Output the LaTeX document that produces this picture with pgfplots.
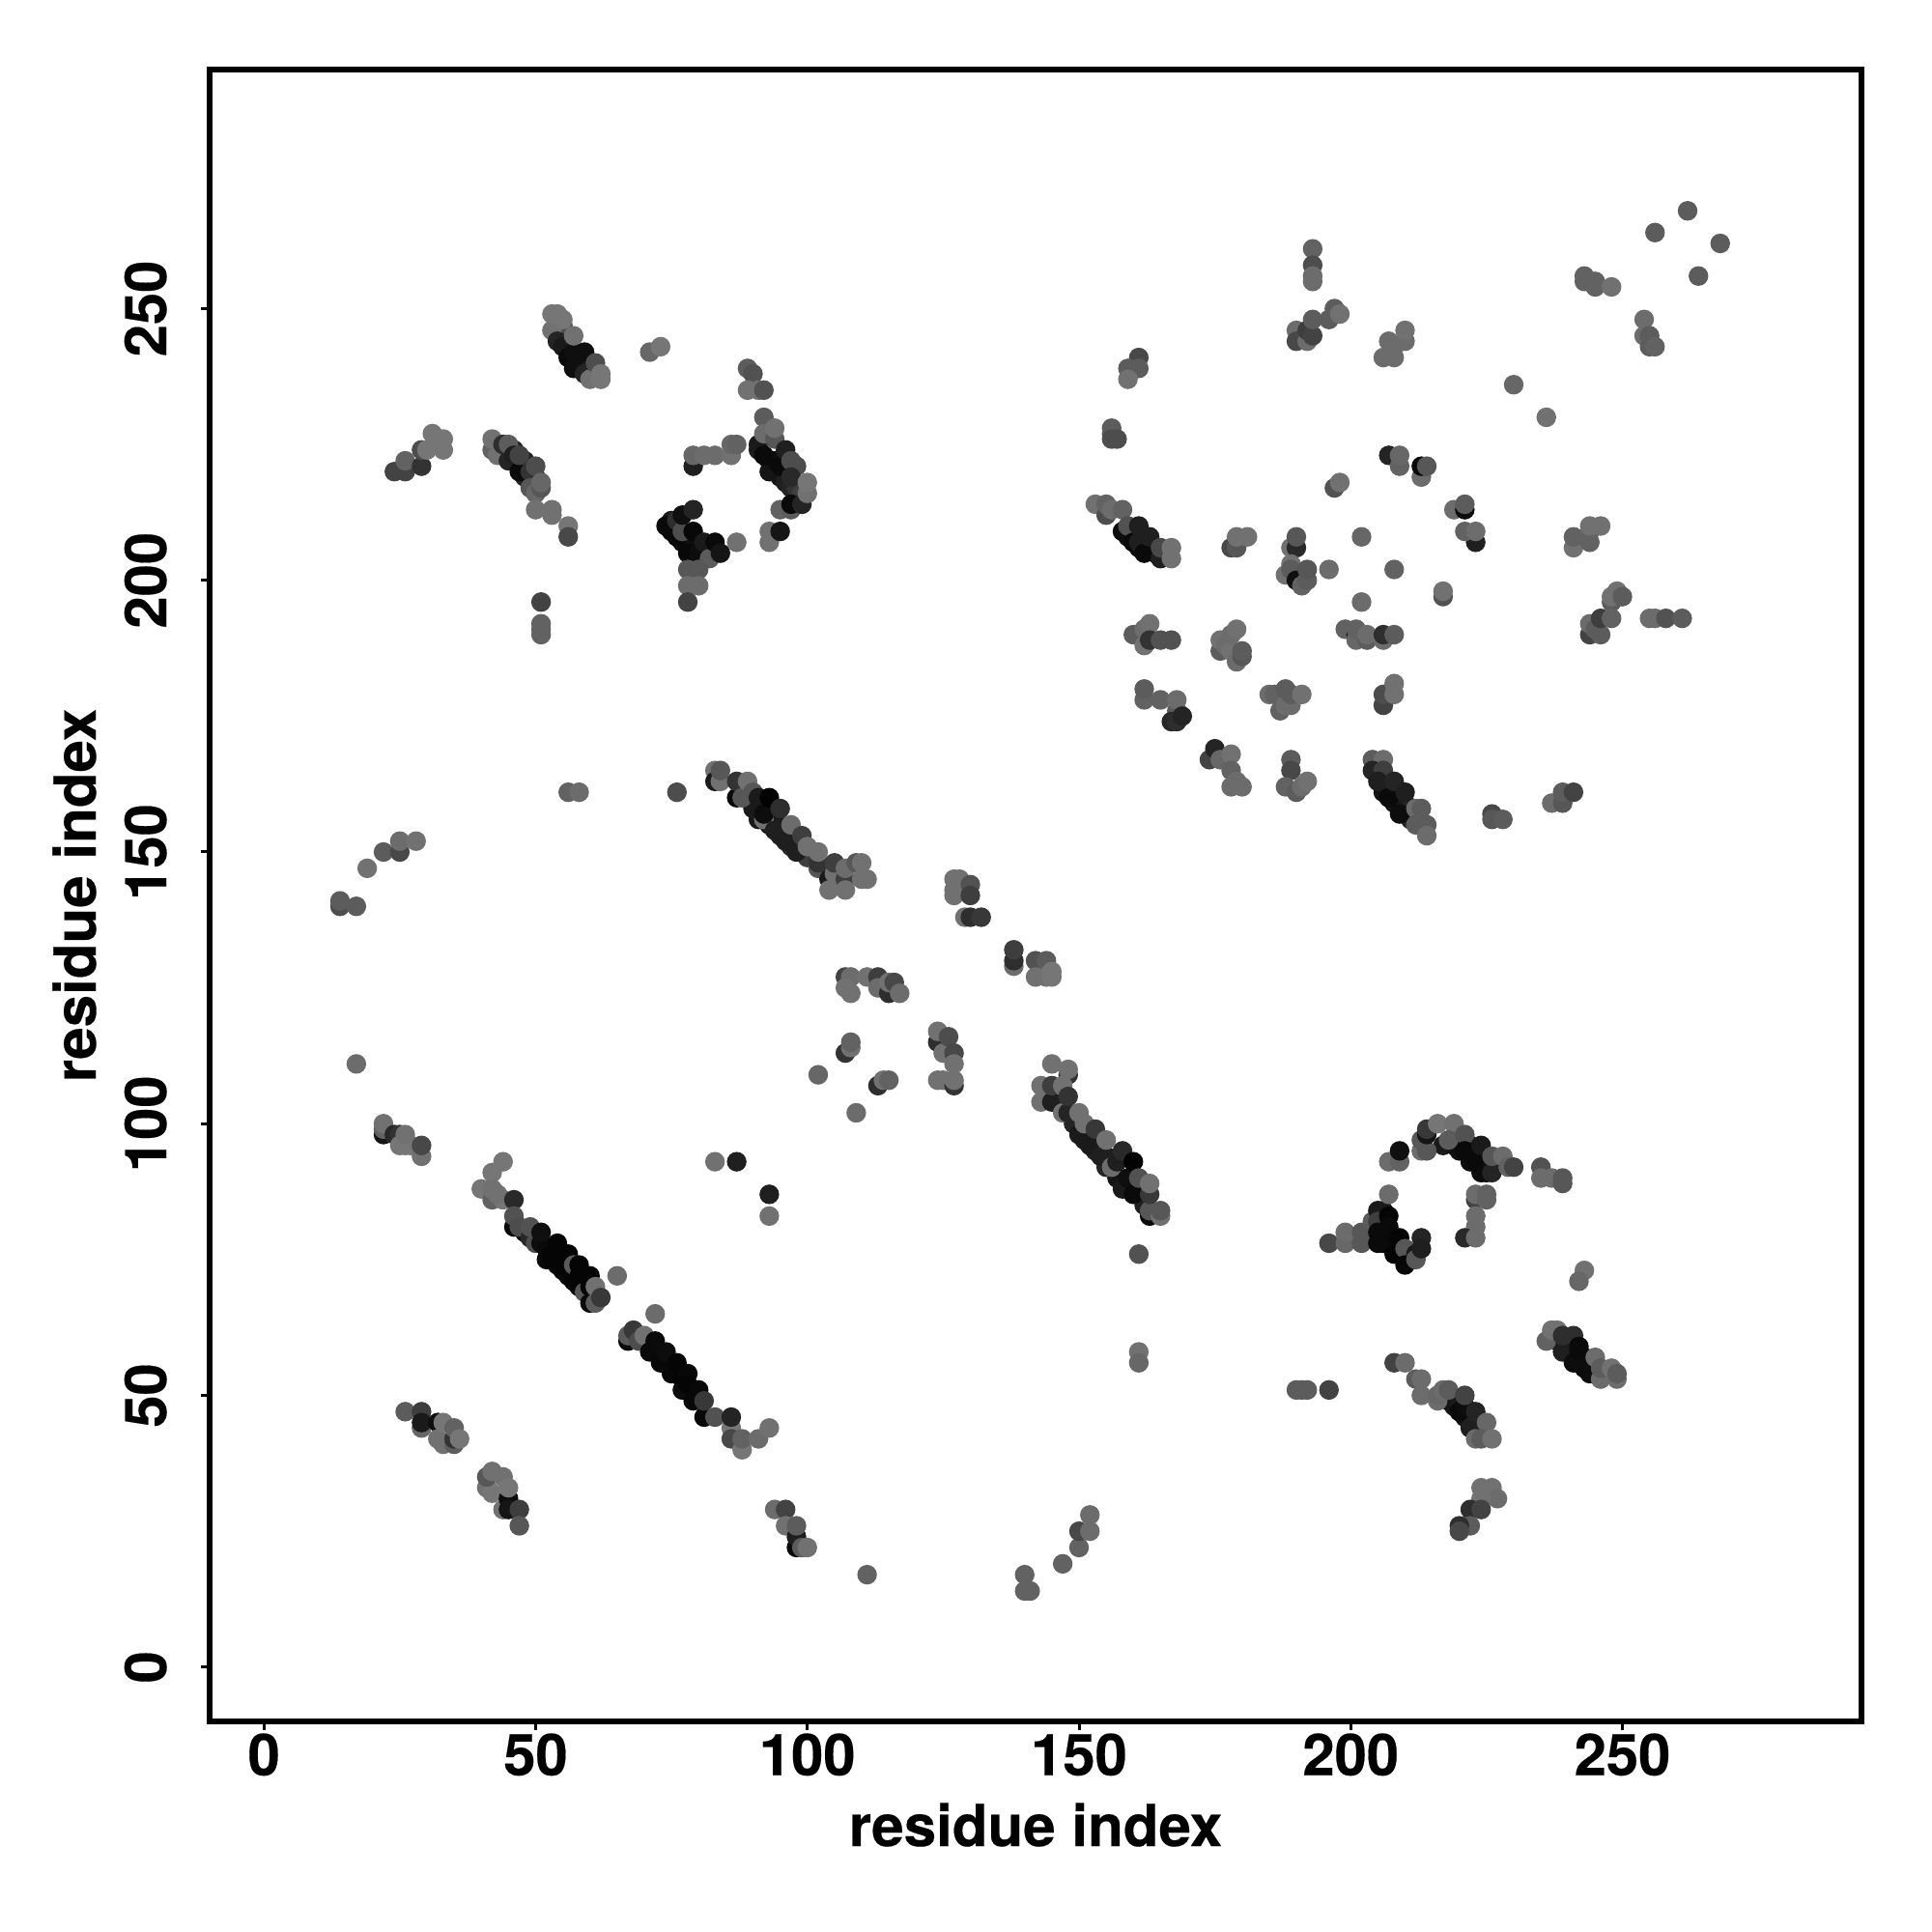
\documentclass[border=0pt]{standalone}
\usepackage{fontspec}
\setmainfont{TeX Gyre Heros}[BoldFeatures={FakeBold=0.3}]
\usepackage{pgfplots}
\pgfplotsset{compat=1.18}
\begin{document}
\begin{tikzpicture}
\path[use as bounding box] (-2.17,-2.18) rectangle (17.83,17.82);
\begin{axis}[
  at={(0,0)},anchor=south west,
  scale only axis,width=17.1cm,height=17.1cm,
  xmin=-10,xmax=294,ymin=-10,ymax=294,
  axis line style={line width=0.06cm},
  xtick={0,50,100,150,200,250},ytick={0,50,100,150,200,250},
  tick align=outside,tick pos=left,
  major tick length=0.09cm,
  tick style={line width=0.03cm,black},
  /pgf/number format/assume math mode=true,
  tick label style={font=\fontsize{17}{20}\selectfont\bfseries},
  xticklabel style={yshift=0.09cm},
  yticklabel style={rotate=90,anchor=south,yshift=0.23cm},
  xlabel={residue index},ylabel={residue index},
  label style={font=\fontsize{17.1}{20}\selectfont\bfseries},
  xlabel style={at={(axis description cs:0.5,0)},anchor=center,yshift=-1.07cm},
  ylabel style={at={(axis description cs:0,0.5)},anchor=center,rotate=0,yshift=1.4cm},
  colormap={g}{gray(0cm)=(0);gray(1cm)=(1)},
  point meta min=0,point meta max=1,
  clip=true,
]
\addplot[scatter,only marks,mark=*,mark size=2.9pt,scatter src=explicit,
  scatter/use mapped color={draw opacity=0,fill=mapped color}]
  table[row sep=\\,header=false,x index=0,y index=1,meta index=2]{
48 80 .06\\ 52 75 .04\\ 54 74 .04\\ 56 72 .03\\ 58 70 .04\\
90 158 .1\\ 91 156 .1\\ 93 157 .06\\ 93 155 .1\\ 95 155 .1\\ 95 153 .14\\ 97 153 .14\\ 97 151 .16\\ 99 150 .2\\ 100 149 .24\\
149 100 .14\\ 151 97 .12\\ 153 95 .14\\ 155 94 .12\\ 155 92 .14\\ 157 90 .08\\ 158 88 .1\\ 160 90 .06\\ 162 85 .12\\ 162 88 .1\\
206 161 .08\\ 207 163 .12\\ 208 159 .08\\ 209 161 .08\\ 210 159 .1\\ 211 156 .14\\ 211 158 .14\\
54 246 .1\\ 55 245 .14\\ 55 247 .3\\ 56 243 .06\\ 57 240 .06\\ 58 241 .05\\ 59 240 .06\\ 60 239 .1\\
91 224 .12\\ 93 222 .06\\ 93 220 .08\\ 94 222 .06\\ 95 219 .08\\ 96 218 .12\\ 97 217 .14\\ 98 217 .2\\ 99 216 .24\\
159 208 .08\\ 160 209 .1\\ 161 206 .06\\ 162 208 .1\\ 163 206 .08\\ 164 205 .1\\
217 96 .1\\ 219 96 .08\\ 220 95 .06\\ 222 93 .06\\ 222 96 .08\\ 224 91 .06\\ 224 93 .1\\ 226 93 .14\\
238 60 .14\\ 240 58 .06\\ 241 59 .06\\ 242 56 .05\\ 243 57 .06\\ 244 56 .08\\ 245 55 .14\\ 247 54 .24\\
218 49 .12\\ 219 48 .08\\ 220 49 .1\\ 221 46 .08\\ 222 47 .1\\ 223 45 .14\\ 224 44 .2\\
75 209 .05\\ 75 211 .1\\ 77 207 .05\\ 78 207 .05\\ 79 207 .06\\ 80 206 .06\\ 81 205 .06\\ 82 206 .06\\
206 84 .1\\ 206 82 .06\\ 206 80 .05\\ 207 79 .04\\ 208 78 .04\\ 209 77 .04\\ 211 75 .06\\
44 223 .14\\ 46 224 .14\\ 47 221 .08\\ 48 222 .14\\ 48 219 .14\\ 50 219 .2\\
};
\addplot[scatter,only marks,mark=*,mark size=2.9pt,scatter src=explicit,
  scatter/use mapped color={draw opacity=0,fill=mapped color}]
  table[row sep=\\,header=false,x index=0,y index=1,meta index=2]{
17 111 .42\\
22 98 .08\\ 22 99 .38\\ 22 100 .44\\ 24 98 .16\\ 25 98 .2\\ 25 96 .46\\ 26 96 .46\\ 27 96 .46\\ 26 98 .44\\ 29 94 .44\\ 29 96 .28\\
44 93 .46\\ 42 91 .46\\ 40 88 .46\\ 42 86 .38\\ 44 86 .46\\ 42 88 .44\\ 43 87 .44\\ 46 86 .16\\ 46 81 .04\\ 46 83 .32\\ 47 81 .3\\ 49 79 .16\\ 50 78 .3\\ 49 81 .32\\
51 78 .05\\ 52 77 .04\\ 53 75 .02\\ 53 76 .02\\ 51 80 .06\\ 54 78 .02\\ 55 73 .02\\ 55 75 .02\\ 56 74 .02\\ 56 76 .02\\ 57 71 .02\\ 57 73 .02\\ 57 74 .35\\ 58 72 .02\\ 58 74 .02\\ 59 71 .02\\ 59 69 .34\\ 60 72 .02\\ 60 70 .02\\ 60 67 .04\\ 61 67 .36\\ 61 70 .44\\ 62 68 .22\\
65 72 .42\\ 72 65 .42\\
67 60 .04\\ 67 61 .35\\ 68 62 .22\\ 69 60 .3\\ 70 61 .44\\ 71 58 .04\\ 72 60 .04\\ 73 56 .03\\ 74 58 .05\\ 75 54 .03\\ 76 56 .02\\ 77 51 .05\\ 77 53 .02\\ 78 54 .03\\ 78 52 .02\\ 79 49 .03\\ 80 51 .03\\ 81 46 .03\\ 81 49 .22\\ 83 46 .32\\ 86 44 .46\\ 86 42 .28\\ 86 46 .14\\ 88 40 .46\\ 88 42 .38\\ 91 42 .42\\ 93 44 .44\\
83 93 .44\\ 87 93 .12\\ 93 87 .12\\ 93 83 .44\\
26 47 .36\\ 29 44 .4\\ 29 47 .24\\ 29 45 .1\\ 32 45 .06\\ 32 42 .44\\ 33 41 .44\\ 33 45 .46\\ 35 41 .36\\ 35 42 .2\\ 35 44 .38\\ 36 42 .46\\
41 33 .44\\ 42 32 .46\\ 41 35 .34\\ 42 36 .44\\ 44 35 .44\\ 44 29 .44\\ 45 31 .05\\ 45 29 .08\\ 45 33 .46\\ 47 29 .24\\ 47 26 .34\\
94 29 .42\\ 96 29 .26\\ 96 26 .44\\ 98 22 .04\\ 98 24 .12\\ 98 26 .36\\ 99 22 .36\\ 100 22 .44\\
111 17 .38\\ 140 17 .38\\ 140 14 .38\\ 141 14 .38\\ 147 19 .38\\ 150 22 .38\\ 150 25 .28\\ 152 25 .42\\ 152 28 .42\\
14 140 .3\\ 14 141 .36\\ 17 140 .36\\ 19 147 .44\\ 22 150 .36\\ 25 150 .28\\ 25 152 .42\\ 28 152 .44\\
56 161 .38\\ 58 161 .42\\ 76 161 .3\\
24 220 .26\\ 26 220 .26\\ 26 222 .38\\ 29 221 .2\\ 29 224 .3\\ 30 224 .46\\ 31 227 .46\\ 32 225 .46\\ 33 226 .46\\ 33 224 .46\\
42 224 .38\\ 42 226 .44\\ 43 223 .44\\ 44 225 .18\\ 45 222 .14\\ 45 225 .36\\ 46 223 .12\\ 47 220 .04\\ 47 223 .26\\ 49 220 .2\\ 50 221 .3\\ 49 217 .34\\ 50 216 .4\\ 51 217 .34\\ 51 218 .4\\ 50 213 .44\\ 53 213 .44\\ 53 212 .44\\ 56 210 .46\\ 56 208 .28\\
51 196 .26\\ 51 192 .38\\ 51 191 .38\\ 51 190 .38\\
53 246 .44\\ 53 249 .46\\ 54 249 .46\\ 54 244 .14\\ 55 243 .1\\ 55 248 .46\\ 56 241 .04\\ 57 239 .06\\ 57 242 .06\\ 57 245 .44\\ 59 238 .14\\ 59 242 .06\\ 60 237 .44\\ 61 240 .3\\ 62 237 .46\\ 62 238 .46\\
71 242 .4\\ 73 243 .46\\
79 221 .12\\ 79 223 .4\\ 81 223 .42\\ 83 223 .42\\ 86 223 .44\\ 86 225 .4\\ 87 225 .38\\
89 239 .36\\ 90 238 .32\\ 89 235 .44\\ 91 235 .44\\ 92 235 .32\\
91 225 .1\\ 92 230 .36\\ 92 227 .42\\ 92 223 .04\\ 94 226 .34\\ 94 228 .44\\ 95 221 .04\\ 96 224 .12\\ 97 222 .3\\ 98 221 .3\\ 97 219 .16\\ 95 213 .38\\ 97 213 .36\\ 97 214 .04\\ 99 214 .14\\ 100 216 .44\\ 100 218 .46\\
93 207 .44\\ 93 209 .44\\ 95 209 .08\\ 87 207 .44\\
74 210 .04\\ 76 208 .03\\ 76 211 .18\\ 77 209 .3\\ 78 205 .03\\ 77 212 .06\\ 79 213 .14\\ 79 209 .03\\ 80 205 .05\\ 81 207 .1\\ 82 204 .36\\ 83 207 .04\\ 84 205 .08\\ 78 202 .34\\ 80 202 .34\\ 78 199 .42\\ 80 199 .42\\ 78 196 .26\\
83 165 .44\\ 83 163 .1\\ 84 163 .44\\ 84 165 .34\\ 87 160 .04\\ 87 163 .2\\ 88 160 .34\\ 89 163 .44\\ 90 161 .34\\ 91 160 .1\\ 92 156 .44\\ 92 157 .05\\ 93 160 .01\\ 94 154 .12\\ 95 158 .18\\ 96 152 .12\\ 97 155 .42\\ 98 150 .12\\ 99 153 .24\\ 100 151 .44\\ 102 147 .34\\ 102 148 .2\\ 102 150 .44\\ 104 145 .1\\ 104 143 .44\\ 105 146 .44\\ 105 148 .24\\ 107 145 .24\\ 107 143 .44\\ 107 147 .42\\ 109 148 .34\\ 110 148 .44\\ 110 145 .44\\ 111 145 .44\\
127 143 .44\\ 127 142 .44\\ 127 145 .44\\ 128 145 .44\\ 130 144 .32\\ 130 142 .24\\ 129 138 .44\\ 130 138 .18\\ 132 138 .22\\
138 129 .42\\ 138 130 .18\\ 138 132 .24\\ 142 130 .32\\ 144 130 .36\\ 142 127 .44\\ 144 127 .44\\ 145 127 .46\\ 145 128 .46\\
107 127 .26\\ 108 127 .42\\ 107 125 .44\\ 108 124 .44\\ 111 127 .44\\ 113 127 .24\\ 113 125 .42\\ 115 124 .18\\ 115 126 .44\\ 116 126 .28\\ 117 124 .42\\
107 113 .2\\ 108 114 .44\\ 108 115 .38\\ 102 109 .4\\ 109 102 .42\\ 113 107 .18\\ 114 108 .44\\ 115 108 .38\\
124 115 .18\\ 124 117 .44\\ 125 113 .44\\ 126 116 .3\\ 127 113 .28\\ 127 111 .44\\ 124 108 .44\\ 125 108 .44\\ 127 107 .2\\ 127 108 .44\\
145 111 .44\\ 148 109 .2\\ 148 110 .44\\ 143 107 .44\\ 143 104 .44\\ 145 104 .12\\ 145 107 .24\\ 147 107 .44\\ 147 102 .44\\ 148 102 .14\\ 148 105 .2\\ 150 98 .1\\ 150 102 .44\\ 151 100 .44\\ 152 96 .1\\ 153 99 .22\\ 154 94 .12\\ 155 97 .44\\ 156 92 .42\\ 157 93 .12\\ 158 95 .16\\ 159 90 .06\\ 160 87 .04\\ 160 93 .01\\ 161 90 .32\\ 163 83 .04\\ 163 84 .34\\ 163 87 .22\\ 163 89 .44\\ 165 83 .44\\ 165 84 .34\\
161 76 .32\\ 161 58 .44\\ 161 56 .4\\
193 261 .38\\ 193 258 .3\\ 193 256 .42\\ 193 255 .42\\
190 246 .42\\ 190 244 .28\\ 192 244 .42\\ 192 246 .24\\ 193 245 .26\\ 193 248 .36\\ 196 248 .36\\ 197 250 .36\\ 198 249 .44\\
206 241 .42\\ 208 241 .42\\ 207 244 .42\\ 208 243 .42\\ 210 244 .42\\ 210 246 .44\\
161 241 .28\\ 159 239 .36\\ 161 239 .36\\ 159 237 .44\\
156 228 .36\\ 156 227 .36\\ 156 226 .3\\ 157 226 .3\\
153 214 .44\\ 155 212 .3\\ 155 214 .38\\ 156 213 .42\\ 158 213 .38\\ 158 209 .05\\ 159 210 .32\\ 160 207 .04\\ 161 207 .12\\ 161 210 .12\\ 162 205 .04\\ 163 208 .12\\ 165 204 .12\\ 165 206 .28\\ 167 204 .44\\ 167 206 .44\\
178 206 .28\\ 179 206 .34\\ 179 208 .44\\ 181 208 .44\\
189 206 .44\\ 190 206 .16\\ 190 208 .34\\ 188 201 .44\\ 189 203 .44\\ 189 202 .36\\ 190 200 .06\\ 191 199 .38\\ 192 200 .36\\ 192 202 .34\\ 196 202 .42\\ 202 208 .4\\ 208 202 .38\\ 202 196 .42\\ 197 217 .32\\ 198 218 .44\\
207 223 .14\\ 209 221 .38\\ 209 223 .4\\ 213 219 .42\\ 213 221 .04\\ 214 221 .34\\
219 213 .42\\ 221 213 .05\\ 221 214 .36\\ 223 207 .12\\ 221 209 .38\\ 223 209 .42\\
230 236 .4\\ 236 230 .44\\
243 256 .38\\ 243 255 .38\\ 245 255 .38\\ 245 254 .38\\ 248 254 .44\\
254 248 .42\\ 254 245 .42\\ 255 245 .36\\ 255 243 .36\\ 256 243 .38\\
241 206 .44\\ 241 208 .38\\ 244 207 .38\\ 244 209 .38\\ 244 210 .44\\ 246 210 .44\\
248 196 .36\\ 248 197 .44\\ 249 198 .44\\ 250 197 .36\\
244 190 .26\\ 244 192 .42\\ 246 190 .36\\ 245 191 .36\\ 246 193 .24\\ 248 193 .38\\
255 193 .42\\ 256 193 .42\\ 258 193 .32\\ 261 193 .36\\
256 264 .36\\ 268 262 .36\\ 264 256 .36\\ 262 268 .36\\
160 190 .36\\ 162 188 .44\\ 162 191 .42\\ 163 192 .44\\ 163 189 .2\\ 165 189 .32\\ 167 189 .32\\
176 187 .36\\ 176 189 .44\\ 177 188 .42\\ 178 187 .44\\ 178 190 .42\\ 179 191 .44\\ 179 185 .42\\ 180 186 .34\\ 180 187 .36\\
199 191 .38\\ 201 190 .08\\ 201 189 .4\\ 201 191 .38\\ 203 189 .36\\ 203 190 .42\\ 206 189 .42\\ 206 190 .18\\ 208 190 .36\\
217 197 .32\\ 217 198 .44\\
162 178 .38\\ 162 180 .36\\ 165 178 .38\\ 168 176 .36\\ 168 178 .42\\ 167 174 .16\\ 168 174 .18\\ 169 175 .14\\
185 179 .42\\ 186 179 .38\\ 187 176 .38\\ 188 177 .42\\ 188 180 .36\\ 189 177 .42\\ 189 179 .36\\ 191 179 .44\\
206 177 .26\\ 206 179 .3\\ 208 179 .44\\ 208 181 .44\\
174 167 .26\\ 175 169 .14\\ 176 167 .4\\ 178 168 .44\\ 178 165 .38\\ 178 162 .42\\ 179 163 .42\\ 180 162 .42\\
189 167 .36\\ 189 165 .28\\ 188 162 .38\\ 190 161 .36\\ 191 162 .42\\ 192 163 .44\\
204 167 .36\\ 206 167 .42\\ 204 165 .14\\ 206 165 .24\\ 205 163 .12\\ 207 160 .04\\ 208 163 .14\\ 209 157 .05\\ 210 161 .12\\ 212 158 .42\\ 213 158 .36\\ 212 155 .36\\ 214 155 .36\\ 214 153 .42\\
226 157 .28\\ 226 156 .34\\ 228 156 .36\\
237 159 .42\\ 239 159 .34\\ 239 161 .36\\ 241 161 .26\\
196 78 .28\\ 199 78 .4\\ 199 80 .42\\ 202 78 .34\\ 202 80 .34\\ 204 82 .36\\ 205 84 .1\\ 205 82 .24\\ 205 80 .04\\ 206 78 .03\\ 205 78 .04\\ 207 83 .02\\ 207 81 .04\\ 208 76 .02\\ 209 79 .02\\ 210 77 .34\\ 210 74 .03\\ 212 76 .1\\ 212 75 .34\\ 213 79 .14\\ 213 77 .12\\
207 87 .42\\ 207 93 .42\\ 209 93 .38\\ 209 95 .06\\
213 95 .42\\ 214 95 .34\\ 213 97 .34\\ 214 98 .08\\ 214 99 .22\\ 216 100 .46\\ 219 100 .44\\ 218 97 .36\\ 221 98 .32\\ 221 95 .04\\ 223 93 .04\\ 224 96 .1\\ 225 91 .05\\ 226 91 .14\\ 226 94 .34\\ 228 94 .42\\ 229 92 .38\\ 230 92 .26\\
235 92 .32\\ 235 90 .42\\ 237 90 .42\\ 239 90 .34\\ 239 89 .34\\
223 86 .26\\ 223 87 .42\\ 225 87 .38\\ 225 86 .38\\ 223 83 .42\\ 223 81 .42\\ 221 79 .16\\ 223 79 .42\\
243 73 .44\\ 242 71 .4\\
236 60 .38\\ 237 62 .44\\ 238 62 .44\\ 239 58 .12\\ 239 61 .18\\ 241 56 .05\\ 241 61 .18\\ 242 58 .04\\ 242 59 .04\\ 243 55 .05\\ 244 54 .05\\ 245 57 .42\\ 246 53 .42\\ 246 55 .36\\ 248 55 .44\\ 249 53 .42\\ 249 54 .36\\
190 51 .36\\ 191 51 .36\\ 192 51 .36\\ 196 51 .26\\
208 56 .26\\ 210 56 .42\\ 212 53 .36\\ 213 53 .42\\ 213 50 .42\\
216 49 .42\\ 216 50 .4\\ 217 51 .42\\ 218 51 .36\\ 220 47 .04\\ 221 48 .05\\ 221 50 .26\\ 222 44 .12\\ 223 47 .14\\ 225 45 .4\\ 223 42 .42\\ 224 42 .36\\ 226 42 .44\\
224 33 .44\\ 226 33 .44\\ 227 31 .42\\ 224 31 .44\\ 222 29 .18\\ 224 29 .26\\ 222 26 .36\\ 220 26 .18\\ 220 25 .28\\
};
\end{axis}
\end{tikzpicture}
\end{document}
